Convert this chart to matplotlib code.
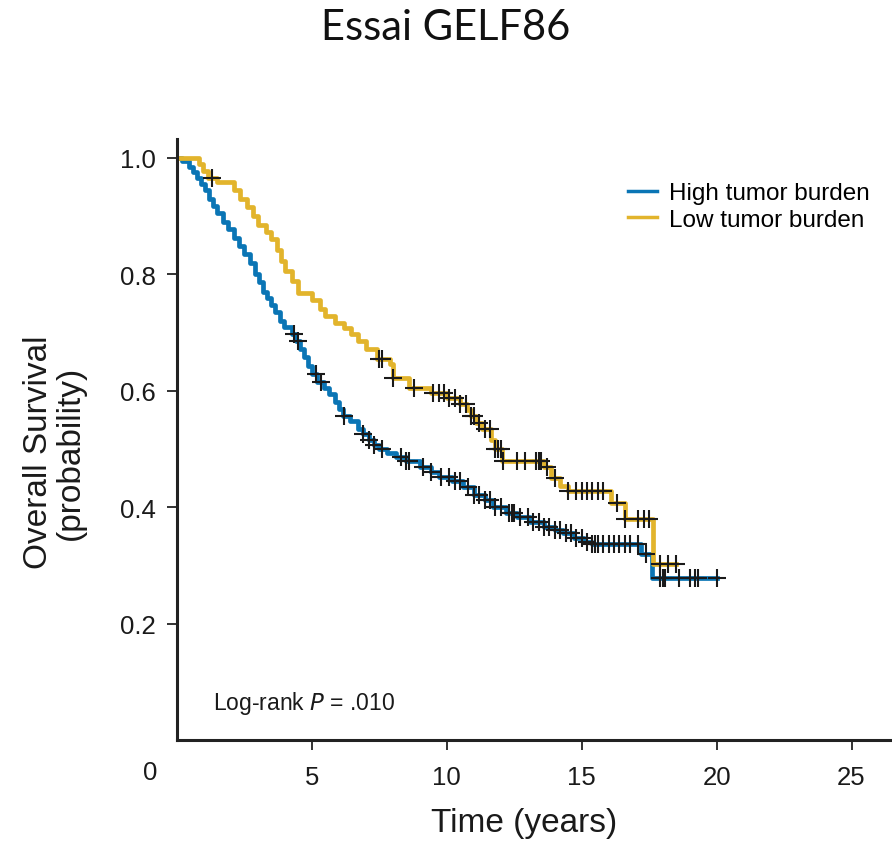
import numpy as np
import matplotlib
matplotlib.use("Agg")
import matplotlib.pyplot as plt
from matplotlib import font_manager

# survival step data (time in years, probability after the step)
high_t = [0, 0.2, 0.45, 0.6, 0.75, 0.9, 1.05, 1.2, 1.35, 1.5, 1.7, 1.9, 2.1, 2.3, 2.5,
          2.7, 2.9, 3.05, 3.2, 3.35, 3.5, 3.65, 3.8, 3.95, 4.1, 4.25, 4.4, 4.55, 4.7,
          4.85, 5.0, 5.2, 5.45, 5.65, 5.85, 6.0, 6.15, 6.4, 6.7, 6.9, 7.1, 7.3, 7.5,
          7.8, 8.1, 8.5, 9.0, 9.4, 9.7, 10.2, 10.6, 11.0, 11.4, 11.7, 12.2, 12.6,
          13.1, 13.6, 14.0, 14.3, 14.7, 15.1, 15.4, 17.2, 17.6, 20.0]
high_s = [1.0, 0.995, 0.985, 0.975, 0.965, 0.955, 0.945, 0.93, 0.918, 0.905, 0.89,
          0.877, 0.862, 0.848, 0.835, 0.82, 0.8, 0.787, 0.77, 0.76, 0.748, 0.735,
          0.72, 0.71, 0.71, 0.698, 0.685, 0.672, 0.657, 0.643, 0.628, 0.615, 0.605,
          0.595, 0.58, 0.568, 0.556, 0.548, 0.535, 0.525, 0.515, 0.507, 0.5, 0.493,
          0.486, 0.479, 0.469, 0.461, 0.452, 0.444, 0.434, 0.42, 0.412, 0.4, 0.39,
          0.383, 0.374, 0.366, 0.36, 0.355, 0.347, 0.34, 0.336, 0.319, 0.278, 0.278]
high_cens = [4.35, 4.5, 5.15, 5.35, 6.2, 6.9, 7.1, 7.3, 7.6, 8.3, 8.5, 8.6, 9.1, 9.4,
             9.8, 10.1, 10.3, 10.5, 10.8, 11.0, 11.2, 11.4, 11.6, 11.8, 12.0, 12.3,
             12.4, 12.5, 12.7, 13.0, 13.2, 13.4, 13.6, 13.8, 14.0, 14.2, 14.4, 14.6,
             14.8, 15.0, 15.2, 15.4, 15.5, 15.6, 15.8, 16.0, 16.2, 16.4, 16.6, 16.8,
             17.1, 17.4, 17.9, 18.0, 18.1, 18.6, 19.0, 19.2, 19.3, 20.0]

low_t = [0, 0.8, 0.95, 1.15, 1.5, 2.1, 2.35, 2.6, 2.8, 3.0, 3.3, 3.5, 3.7, 3.85, 4.0,
         4.25, 4.5, 5.0, 5.3, 5.5, 5.85, 6.2, 6.45, 6.7, 7.0, 7.4, 7.9, 8.0, 8.6, 9.4,
         10.0, 10.5, 10.75, 10.9, 11.1, 11.3, 11.65, 11.8, 12.05, 13.6, 13.85, 14.2,
         14.5, 16.1, 16.6, 17.65, 18.5]
low_s = [1.0, 0.99, 0.978, 0.965, 0.958, 0.945, 0.93, 0.915, 0.9, 0.885, 0.872, 0.86,
         0.842, 0.822, 0.805, 0.788, 0.768, 0.755, 0.74, 0.728, 0.716, 0.708, 0.697,
         0.685, 0.672, 0.655, 0.645, 0.622, 0.605, 0.596, 0.587, 0.577, 0.566, 0.556,
         0.545, 0.535, 0.515, 0.5, 0.48, 0.469, 0.45, 0.437, 0.428, 0.407, 0.38,
         0.302, 0.302]
low_cens = [1.3, 7.5, 7.6, 8.0, 8.8, 9.5, 9.7, 9.9, 10.1, 10.3, 10.5, 10.7, 10.9, 11.0,
            11.2, 11.4, 11.6, 11.8, 11.9, 12.0, 12.1, 12.6, 12.9, 13.3, 13.4, 13.5,
            13.7, 14.0, 14.5, 14.8, 15.0, 15.2, 15.4, 15.6, 15.8, 16.3, 16.6, 17.1,
            17.3, 17.5, 17.9, 18.2, 18.5]

names = ["High tumor burden", "Low tumor burden"]
colors = ["#0a75b5", "#e2b42c"]

narrow = "Liberation Sans Narrow"
try:
    font_manager.findfont(narrow, fallback_to_default=False)
except Exception:
    narrow = "Liberation Sans"
plt.rcParams['font.family'] = ['Liberation Sans', 'DejaVu Sans']


def surv_at(t_list, s_list, x):
    idx = np.searchsorted(np.array(t_list), np.array(x), side='right') - 1
    return np.array(s_list)[idx]


fig = plt.figure(figsize=(8.92, 8.45), dpi=100)
ax = fig.add_axes([0.1984, 0.1231, 0.8016, 0.711])

for t, s, c, col, name in [(high_t, high_s, high_cens, colors[0], names[0]),
                           (low_t, low_s, low_cens, colors[1], names[1])]:
    ax.step(t, s, where='post', color=col, linewidth=3.4, label=name, zorder=2)
    ax.plot(c, surv_at(t, s, c), linestyle='none', marker='+', color='#1a1a1a',
            markersize=13, markeredgewidth=1.5, zorder=3)

ax.set_xlim(0, 26.5)
ax.set_ylim(0, 1.032)
ax.set_xticks([5, 10, 15, 20, 25])
ax.set_yticks([0.2, 0.4, 0.6, 0.8, 1.0])
ax.set_yticklabels(["0.2", "0.4", "0.6", "0.8", "1.0"])
ax.tick_params(axis='both', labelsize=18.5, length=7, width=1.3, color='#222222',
               labelcolor='#1a1a1a')
ax.tick_params(axis='x', pad=11)
ax.tick_params(axis='y', pad=8)
ax.annotate("0", xy=(0, 0), xytext=(-27, -32), textcoords='offset pixels',
            ha='center', va='center', fontsize=18.5, color='#1a1a1a',
            annotation_clip=False)

for side in ['top', 'right']:
    ax.spines[side].set_visible(False)
for side in ['left', 'bottom']:
    ax.spines[side].set_linewidth(2.2)
    ax.spines[side].set_color('#222222')

ax.set_ylabel("Overall Survival\n(probability)", fontsize=24, family=narrow,
              color='#1a1a1a', linespacing=1.0)
ax.yaxis.set_label_coords(-0.128, 0.48)
ax.set_xlabel("Time (years)", fontsize=24, family=narrow, color='#1a1a1a')
ax.xaxis.set_label_coords(0.485, -0.112)

ax.text(1.33, 0.065, "Log-rank $\\mathit{P}$ = .010", fontsize=16.5, va='center',
        color='#1a1a1a')

leg = ax.legend(loc='upper right', bbox_to_anchor=(1.0, 0.965), frameon=False,
                fontsize=17.5, handlelength=1.2, handletextpad=0.5,
                labelspacing=0.2)
for h in leg.legend_handles:
    h.set_linewidth(2.5)

fig.text(0.5, 1 - 28 / 845, "Essai GELF86", ha='center', va='center',
         fontsize=30, family=['Lato', 'DejaVu Sans'], color='#111111')

plt.savefig("out.png", dpi=100)
